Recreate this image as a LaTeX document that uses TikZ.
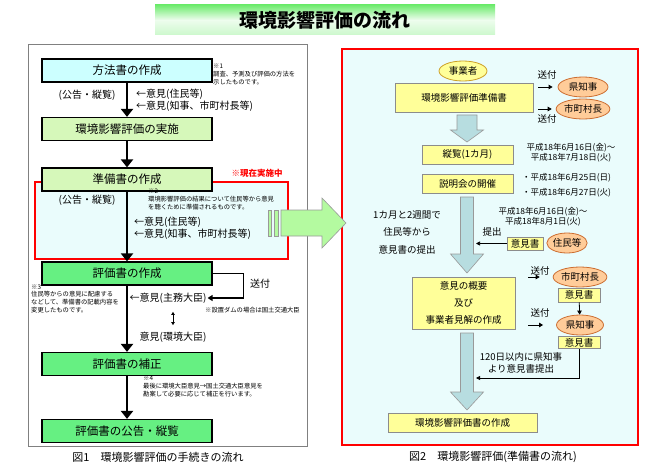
\documentclass[tikz,border=0pt]{standalone}
\usepackage{fontspec}
\setmainfont{Noto Sans CJK JP}[AutoFakeSlant=0.2]
\usetikzlibrary{arrows.meta,shapes.geometric}

\definecolor{boxcyan}{RGB}{204,255,255}
\definecolor{boxpale}{RGB}{214,248,186}
\definecolor{boxgreen}{RGB}{102,240,130}
\definecolor{panelcyan}{RGB}{234,252,252}
\definecolor{boxyellow}{RGB}{255,255,153}
\definecolor{ovalfill}{RGB}{255,204,153}
\definecolor{ovalline}{RGB}{204,110,50}
\definecolor{jigline}{RGB}{204,160,40}
\definecolor{arrowblue}{RGB}{183,221,224}
\definecolor{arrowgreen}{RGB}{180,250,160}
\definecolor{titlegreen}{RGB}{110,235,110}

\begin{document}
\begin{tikzpicture}[x=1pt, y=-1pt,
  stepbox/.style={draw=black, line width=1.2pt, minimum width=170pt, minimum height=23pt, inner sep=0pt, font=\fontsize{11.5}{13}\selectfont},
  flow/.style={line width=2.2pt, -{Triangle[length=8pt,width=12pt]}},
  ybox/.style={draw=black!45, line width=.6pt, fill=boxyellow, inner sep=0pt, font=\fontsize{9.5}{11}\selectfont},
  oval/.style={ellipse, draw=ovalline, line width=.8pt, fill=ovalfill, inner sep=0pt, font=\fontsize{9.5}{11}\selectfont},
  note/.style={anchor=north west, align=left, inner sep=0pt, font=\fontsize{6.3}{7.6}\selectfont},
  txt/.style={inner sep=1pt, font=\fontsize{10}{12}\selectfont},
  rtxt/.style={inner sep=1pt, align=center, font=\fontsize{8.5}{9.5}\selectfont},
  sarrow/.style={line width=.8pt, -{Triangle[length=4pt,width=4.5pt]}},
  bigarrow/.style={draw=black!40, line width=.6pt, fill=arrowblue}]

\useasboundingbox (0,0) rectangle (650,476);

% title
\shade[top color=titlegreen, bottom color=titlegreen!35, middle color=white!88!titlegreen] (155,5) rectangle (495,35);
\node[font=\fontsize{19}{21}\selectfont\bfseries] (title) at (325,20) {環境影響評価の流れ};

% figure 1
\draw[black!50, line width=.6pt] (28,44) rectangle (307,446);
\draw[red, line width=1.8pt, fill=panelcyan] (35,182) rectangle (288,259);
\node[text=red, font=\fontsize{8.5}{10}\selectfont\bfseries\itshape] (now) at (257,173) {※現在実施中};

\foreach \i/\y/\c/\t in {1/70.5/boxcyan/方法書の作成, 2/129/boxpale/環境影響評価の実施, 3/179.5/boxpale/準備書の作成,
    4/273.5/boxgreen/評価書の作成, 5/364/boxgreen/評価書の補正, 6/431/boxgreen/評価書の公告・縦覧}
  \node[stepbox, fill=\c] (s\i) at (127,\y) {\t};
\foreach \a/\b in {1/2,2/3,3/4,4/5,5/6}
  \draw[flow] (s\a) -- (s\b);

\node[txt] (koku1) at (87,95) {(公告・縦覧)};
\node[txt, anchor=west] (op1) at (135,94) {←意見(住民等)};
\node[txt, anchor=west] (op2) at (135,106) {←意見(知事、市町村長等)};
\node[note] (n1) at (213,64) {※1\\調査、予測及び評価の方法を\\示したものです。};

\node[txt] (koku2) at (87,200) {(公告・縦覧)};
\node[note] (n2) at (148,189) {※2\\環境影響評価の結果について住民等から意見\\を聴くために準備されるものです。};
\node[txt, anchor=west] (op3) at (133,222) {←意見(住民等)};
\node[txt, anchor=west] (op4) at (133,234) {←意見(知事、市町村長等)};

\node[note] (n3) at (31,284.5) {※3\\住民等からの意見に配慮する\\などして、準備書の記載内容を\\変更したものです。};
\node[txt] (op5) at (168,298) {←意見(主務大臣)};
\draw[line width=1.2pt, -{Triangle[length=5pt,width=6pt]}] (s4.east) -- ++(31,0) |- (op5.east);
\node[txt] (sofu0) at (260,284) {送付};
\node[inner sep=0pt, anchor=west, font=\fontsize{6.3}{7.5}\selectfont] (n5) at (205,310) {※設置ダムの場合は国土交通大臣};
\node[txt] (op6) at (173,337) {意見(環境大臣)};
\draw[line width=.7pt, {Triangle[length=3pt,width=3.5pt]}-{Triangle[length=3pt,width=3.5pt]}, shorten <=7.5pt, shorten >=5.5pt]
  (op5.south -| op6) -- (op6.north);
\node[note] (n4) at (143,376) {※4\\最後に環境大臣意見→国土交通大臣意見を\\勘案して必要に応じて補正を行います。};

\node[font=\fontsize{11}{12}\selectfont] (cap1) at (158,457) {図1　環境影響評価の手続きの流れ};

% figure 2
\draw[red, line width=1.8pt, fill=panelcyan] (342,49) rectangle (638,445);

\foreach \t/\h/\e/\w in {115/130/142/10, 197/254/273/6.5, 333/392/410/6.5}
  \draw[bigarrow] (467-\w,\t) -- (467+\w,\t) -- (467+\w,\h) -- (483.5,\h) -- (467,\e) -- (450.5,\h) -- (467-\w,\h) -- cycle;

\node[oval, draw=jigline, fill=boxyellow, minimum width=48pt, minimum height=20pt] (jig) at (463,71) {事業者};
\node[ybox, minimum width=138pt, minimum height=29pt] (jbs) at (464,97.5) {環境影響評価準備書};
\node[oval, minimum width=50pt, minimum height=20pt] (ken1) at (583,87) {県知事};
\node[oval, minimum width=52pt, minimum height=20pt] (shi1) at (583,109) {市町村長};
\draw[sarrow, shorten <=5pt, shorten >=5pt] (jbs.east |- ken1) -- (ken1.west);
\draw[sarrow, shorten <=5pt, shorten >=4pt] (jbs.east |- shi1) -- (shi1.west);
\node[txt, font=\fontsize{9.5}{11}\selectfont] (sofu1) at (547,75) {送付};
\node[txt, font=\fontsize{9.5}{11}\selectfont] (sofu2) at (547,119) {送付};

\node[ybox, minimum width=91pt, minimum height=19pt] (jur) at (467.5,154.5) {縦覧(1カ月)};
\node[ybox, minimum width=91pt, minimum height=19pt] (setu) at (467.5,183.5) {説明会の開催};
\node[rtxt] (d1) at (571,152.5) {平成18年6月16日(金)～\\平成18年7月18日(火)};
\node[rtxt, anchor=west] (d2) at (521,178) {・平成18年6月25日(日)};
\node[rtxt, anchor=west] (d3) at (521,193) {・平成18年6月27日(火)};

\node[txt, align=center, font=\fontsize{9.5}{17.5}\selectfont] (teis) at (407,232.5) {1カ月と2週間で\\住民等から\\意見書の提出};
\node[rtxt] (d4) at (543,216.5) {平成18年6月16日(金)～\\平成18年8月1日(火)};
\node[txt, font=\fontsize{9.5}{11}\selectfont] (tei) at (492,232) {提出};
\node[ybox, minimum width=36pt, minimum height=13pt] (ik1) at (525,243.5) {意見書};
\node[oval, minimum width=40pt, minimum height=20pt] (jum) at (567,243) {住民等};
\coordinate (a2) at (476,243.5);
\draw[line width=.6pt, -{Triangle[length=4pt,width=4pt]}] (ik1.west) -- (a2);

\node[ybox, minimum width=103pt, minimum height=52pt, align=center, font=\fontsize{9.5}{17}\selectfont] (kk) at (463.5,303) {意見の概要\\及び\\事業者見解の作成};
\node[oval, minimum width=47pt, minimum height=20pt] (shi2) at (580,277) {市町村長};
\node[ybox, minimum width=42pt, minimum height=14pt] (ik2) at (579,295) {意見書};
\node[oval, minimum width=47pt, minimum height=20pt] (ken2) at (580,325) {県知事};
\node[ybox, minimum width=42pt, minimum height=12pt] (ik3) at (579,342.5) {意見書};
\draw[sarrow, shorten <=13pt, shorten >=13pt] (kk.east |- shi2) -- (shi2.west);
\draw[sarrow, shorten <=13pt, shorten >=13pt] (kk.east |- ken2) -- (ken2.west);
\node[txt, font=\fontsize{9.5}{11}\selectfont] (sofu3) at (540,271) {送付};
\node[txt, font=\fontsize{9.5}{11}\selectfont] (sofu4) at (540,313) {送付};
\draw[sarrow] (ik2) -- (ken2);
\coordinate (a3) at (476,378);
\draw[line width=.8pt, -{Triangle[length=4pt,width=4pt]}] (ik3.south) |- (a3);
\node[txt, align=center, font=\fontsize{9.5}{12}\selectfont] (d5) at (521,363) {120日以内に県知事\\より意見書提出};

\node[ybox, minimum width=149pt, minimum height=19pt] (hyo) at (462.5,422.5) {環境影響評価書の作成};
\node[font=\fontsize{11}{12}\selectfont] (cap2) at (493,457) {図2　環境影響評価(準備書の流れ)};

% arrow between the figures
\fill[arrowgreen, draw=black!40, line width=.5pt] (268,210) rectangle (271.5,236);
\fill[arrowgreen, draw=black!40, line width=.5pt] (274,210) rectangle (278,236);
\draw[fill=arrowgreen, draw=black!40, line width=.6pt] (281,210) -- (322,210) -- (322,198) -- (346,223) -- (322,248) -- (322,236) -- (281,236) -- cycle;
\end{tikzpicture}
\end{document}
